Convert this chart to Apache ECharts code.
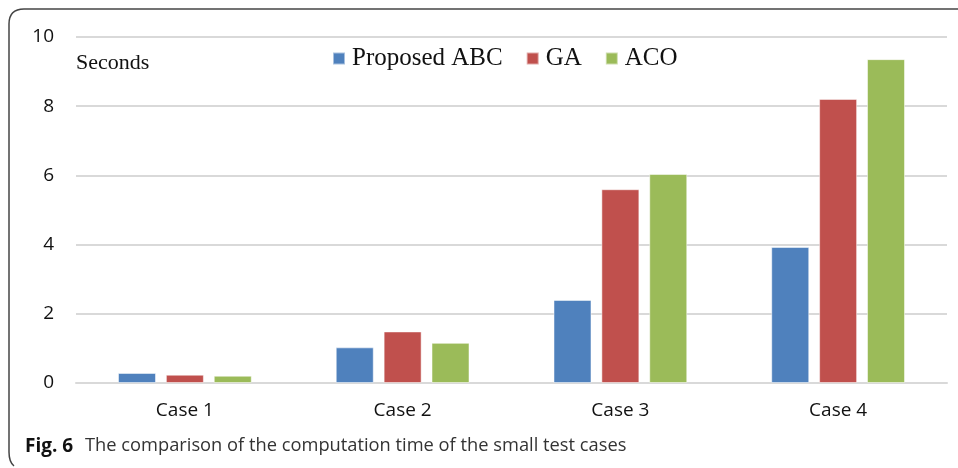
<!DOCTYPE html>
<html>
<head>
<meta charset="utf-8">
<script src="https://cdn.jsdelivr.net/npm/echarts@6/dist/echarts.min.js"></script>
<style>
  html, body { margin: 0; padding: 0; background: #fff; }
  #chart { width: 958px; height: 468px; }
</style>
</head>
<body>
<div id="chart"></div>
<script>
const categories = ["Case 1", "Case 2", "Case 3", "Case 4"];
const seriesNames = ["Proposed ABC", "GA", "ACO"];
const abcValues = [0.29, 1.03, 2.40, 3.93];
const gaValues = [0.24, 1.49, 5.60, 8.21];
const acoValues = [0.21, 1.16, 6.04, 9.36];
const colors = ["#4F81BD", "#C0504D", "#9BBB59"];

const chart = echarts.init(document.getElementById("chart"));

const makeBar = (name, data, color) => ({
  name: name,
  type: "bar",
  data: data,
  barWidth: 38,
  barGap: "26%",
  itemStyle: { color: color, borderColor: "rgba(255,255,255,0.5)", borderWidth: 1 }
});

const frameStyle = { stroke: "#444", lineWidth: 1.5, fill: null };

chart.setOption({
  animation: false,
  grid: { left: 76, right: 11, top: 37, bottom: 85 },
  legend: {
    data: seriesNames,
    top: 41,
    left: 327,
    icon: "rect",
    itemWidth: 12,
    itemHeight: 12,
    itemGap: 23,
    textStyle: { fontFamily: "Liberation Serif", fontSize: 25, color: "#111", padding: [0, 0, 0, 2] }
  },
  xAxis: {
    type: "category",
    data: categories,
    axisTick: { show: false },
    axisLine: { lineStyle: { color: "#d9d9d9", width: 2 } },
    axisLabel: { margin: 18, fontFamily: "Open Sans", fontSize: 19, color: "#111" }
  },
  yAxis: {
    type: "value",
    min: 0,
    max: 10,
    interval: 2,
    axisLine: { show: false },
    axisTick: { show: false },
    splitLine: { lineStyle: { color: "#d9d9d9", width: 2 } },
    axisLabel: { margin: 22, fontFamily: "Open Sans", fontSize: 19, color: "#111" }
  },
  series: [
    makeBar(seriesNames[0], abcValues, colors[0]),
    makeBar(seriesNames[1], gaValues, colors[1]),
    makeBar(seriesNames[2], acoValues, colors[2])
  ],
  graphic: [
    {
      type: "text",
      left: 76,
      top: 52,
      style: { text: "Seconds", font: "22px 'Liberation Serif'", fill: "#111" }
    },
    {
      type: "polyline",
      shape: { points: [[958, 9], [24, 9]] },
      style: frameStyle
    },
    {
      type: "bezierCurve",
      shape: { x1: 24, y1: 9, x2: 9, y2: 24, cpx1: 9, cpy1: 9 },
      style: frameStyle
    },
    {
      type: "polyline",
      shape: { points: [[9, 24], [9, 452]] },
      style: frameStyle
    },
    {
      type: "bezierCurve",
      shape: { x1: 9, y1: 452, x2: 14, y2: 466, cpx1: 9, cpy1: 462 },
      style: frameStyle
    },
    {
      type: "text",
      left: 25,
      top: 437,
      style: { text: "Fig. 6", font: "bold 19px 'Open Sans'", fill: "#111" }
    },
    {
      type: "text",
      left: 85,
      top: 437,
      style: { text: "The comparison of the computation time of the small test cases", font: "18.3px 'Open Sans'", fill: "#333" }
    }
  ]
});
</script>
</body>
</html>
